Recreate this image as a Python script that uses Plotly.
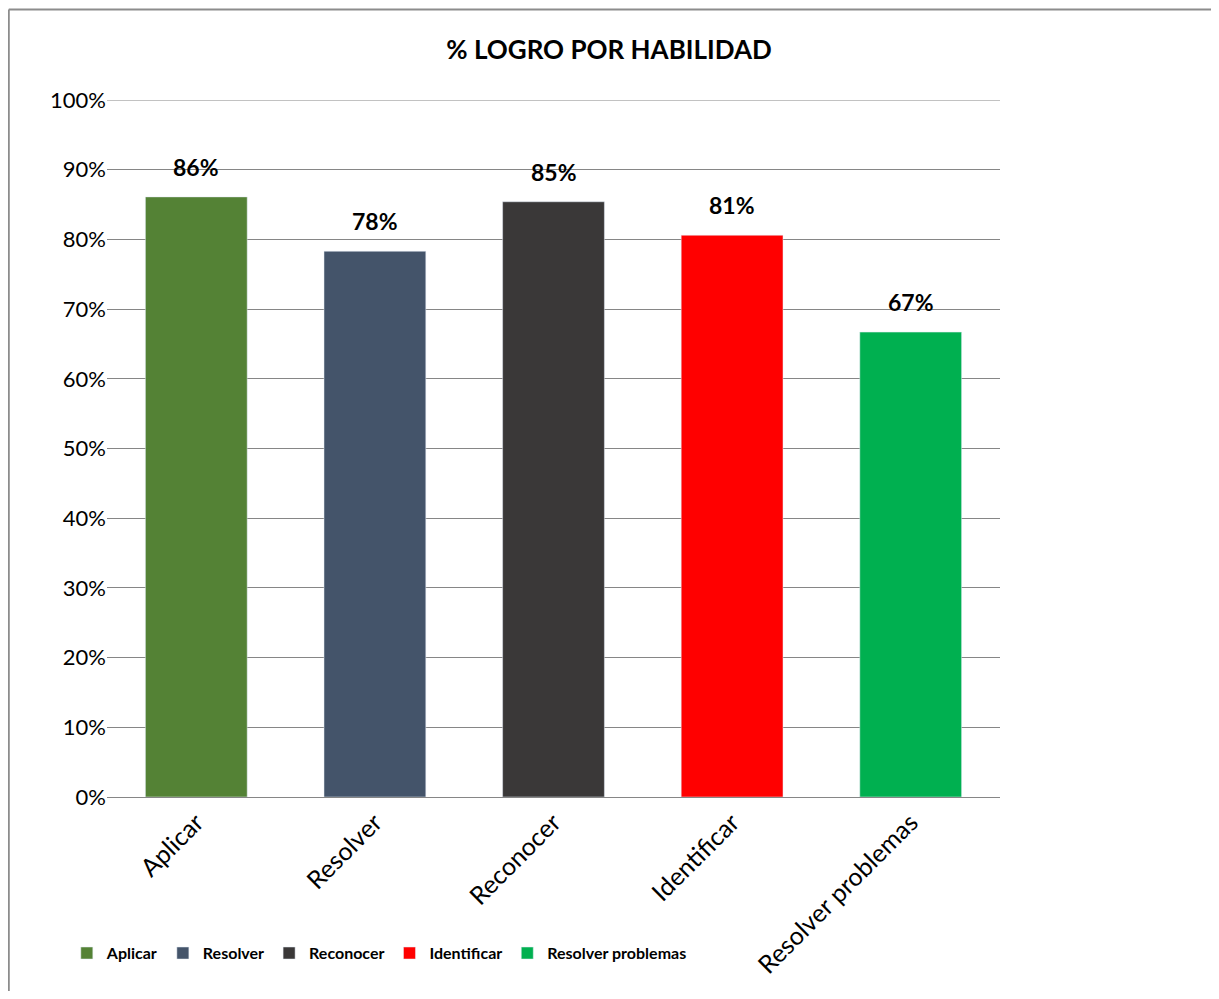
import plotly.graph_objects as go

# data
categories = ["Aplicar", "Resolver", "Reconocer", "Identificar", "Resolver problemas"]
logro = [0.861, 0.783, 0.854, 0.806, 0.667]
labels = ["86%", "78%", "85%", "81%", "67%"]
colors = ["#548235", "#44546A", "#3A3838", "#FF0000", "#00B050"]

FONT = "Lato, 'Open Sans', sans-serif"

fig = go.Figure()

for cat, val, col in zip(categories, logro, colors):
    fig.add_trace(go.Bar(
        x=[cat],
        y=[val],
        name=cat,
        marker_color=col,
        width=0.57,
        hoverinfo="x+y"
    ))

# data labels sit a bit higher than plotly's 'outside' text would
for cat, val, lab in zip(categories, logro, labels):
    fig.add_annotation(
        x=cat, y=val, text=f"<b>{lab}</b>",
        showarrow=False, yanchor="bottom", yshift=14,
        font=dict(size=23, color="black", family=FONT)
    )

# top gridline (plotly skips the one sitting on the plot edge)
fig.add_shape(type="line", xref="paper", yref="y",
              x0=0, x1=1, y0=1, y1=1, layer="below",
              line=dict(color="#868686", width=1))

# outer frame (only top and left edges are visible in the reference)
fig.add_shape(type="line", xref="paper", yref="paper",
              x0=-0.11, x1=1.25, y0=1.13, y1=1.13,
              line=dict(color="#8C8C8C", width=2))
fig.add_shape(type="line", xref="paper", yref="paper",
              x0=-0.11, x1=-0.11, y0=1.13, y1=-0.3,
              line=dict(color="#8C8C8C", width=2))

fig.update_layout(
    width=1203,
    height=983,
    margin=dict(l=99, r=211, t=92, b=191),
    paper_bgcolor="white",
    plot_bgcolor="white",
    barmode="overlay",
    font=dict(family=FONT, color="black"),
    title=dict(
        text="<b>% LOGRO POR HABILIDAD</b>",
        x=0.4996, xanchor="center",
        y=1 - 42 / 983, yanchor="middle",
        font=dict(size=26, color="black", family=FONT)
    ),
    xaxis=dict(
        tickangle=-45,
        tickfont=dict(size=25),
        showline=True, linecolor="#868686", linewidth=1,
        showgrid=False, ticks=""
    ),
    yaxis=dict(
        range=[0, 1],
        dtick=0.1,
        tickformat=".0%",
        tickfont=dict(size=22),
        showgrid=True, gridcolor="#868686", gridwidth=1,
        zeroline=False, showline=False, ticks="",
        ticklen=0
    ),
    legend=dict(
        orientation="h",
        x=-0.045, xanchor="left",
        y=-0.224, yanchor="middle",
        font=dict(size=16, weight="bold"),
        itemwidth=30,
        traceorder="normal"
    ),
    showlegend=True
)

fig.write_html("out.html")
